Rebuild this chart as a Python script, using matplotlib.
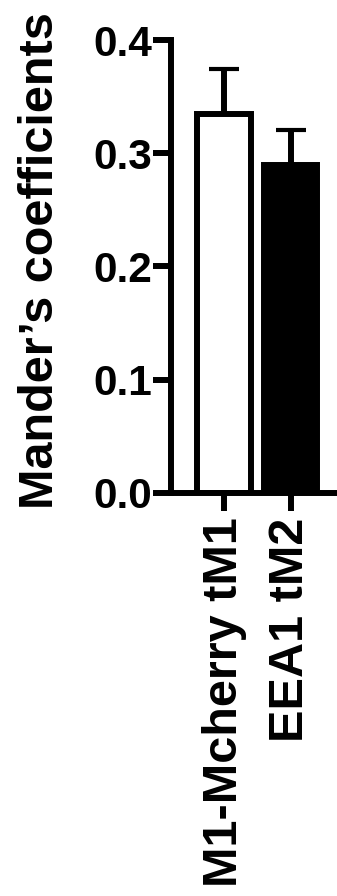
import matplotlib
matplotlib.use("Agg")
import matplotlib.pyplot as plt

categories = ["M1-Mcherry tM1", "EEA1 tM2"]
means = [0.335, 0.290]
errors = [0.040, 0.031]
yticks = [0.0, 0.1, 0.2, 0.3, 0.4]
ytick_labels = ["0.0", "0.1", "0.2", "0.3", "0.4"]
ylabel = "Mander\u2019s coefficients"

plt.rcParams['font.family'] = ['Liberation Sans', 'DejaVu Sans']
plt.rcParams['font.weight'] = 'bold'

W, H = 337, 896
fig = plt.figure(figsize=(W / 100, H / 100), dpi=100)
left_px, right_px, top_px, bottom_px = 171, 337, 40.5, 492.5
ax = fig.add_axes([left_px / W, 1 - bottom_px / H, (right_px - left_px) / W, (bottom_px - top_px) / H])

x = [1, 2]
lw = 4.3
ax.bar(x, means, width=0.8, color=["white", "black"], edgecolor="black", linewidth=lw, zorder=2)
ax.errorbar(x, means, yerr=[[0, 0], errors], fmt="none", ecolor="black",
            elinewidth=lw, capsize=10.8, capthick=3, zorder=1)

ax.set_xlim(0.203, 2.699)
ax.set_ylim(0, 0.4)
ax.set_yticks(yticks)
ax.set_yticklabels(ytick_labels, fontsize=30.5, fontweight='bold')
ax.set_xticks(x)
ax.set_xticklabels(categories, rotation=90, fontsize=35, fontweight='bold')

for s in ["top", "right"]:
    ax.spines[s].set_visible(False)
for s in ["left", "bottom"]:
    ax.spines[s].set_linewidth(lw)
ax.tick_params(axis='y', length=13, width=lw, pad=0.7)
ax.tick_params(axis='x', length=13, width=lw, pad=5)

fig.text(53 / W, 1 - 260.5 / H, ylabel, rotation=90, rotation_mode='anchor',
         ha='center', va='baseline', fontsize=35, fontweight='bold')

fig.savefig("out.png", dpi=100)
